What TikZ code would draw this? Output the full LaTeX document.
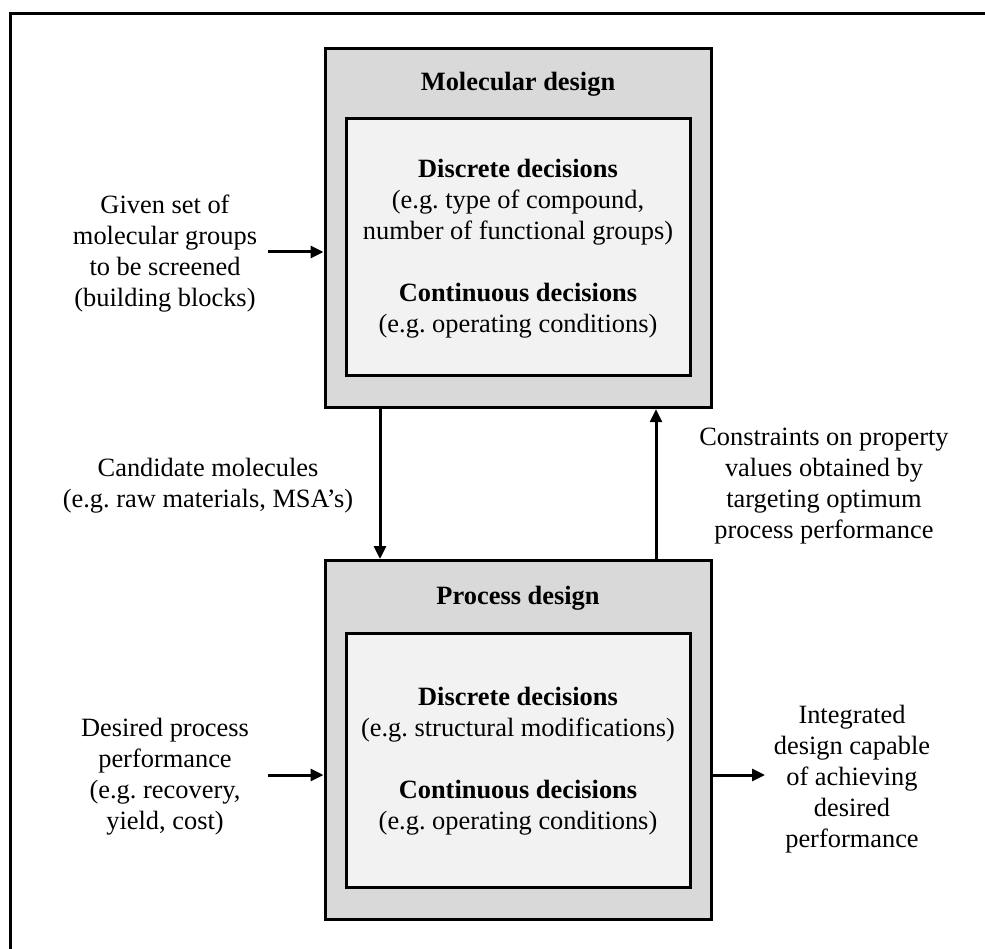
\documentclass[tikz,border=0pt]{standalone}
\usepackage{fontspec}
\setmainfont{Liberation Serif}
\usetikzlibrary{arrows.meta}
\definecolor{outergray}{HTML}{D9D9D9}
\definecolor{innergray}{HTML}{F2F2F2}
\frenchspacing
\begin{document}
\begin{tikzpicture}[x=1pt,y=-1pt,
  every node/.style={font=\fontsize{26.4}{31}\selectfont, inner sep=0pt, align=center},
  outerbox/.style={draw, line width=3pt, fill=outergray, minimum width=386pt},
  innerbox/.style={draw, line width=3pt, fill=innergray, minimum width=344pt},
  arr/.style={line width=3pt, -{Triangle[length=13pt,width=12pt]}},
  frameline/.style={line width=3pt}]
\useasboundingbox (0,0) rectangle (985,949);

% open frame (top and left edges)
\coordinate (fBL) at (10.5,949);
\coordinate (fTL) at (10.5,13.5);
\coordinate (fTR) at (985,13.5);
\draw[frameline] (fBL) -- (fTL) -- (fTR);

% molecular design block
\node[outerbox, minimum height=359pt] (mol) at (518,228.2) {};
\node[innerbox, minimum height=257pt] (molin) at (518,247.2) {};
\node[font=\fontsize{26.4}{31}\selectfont\bfseries] (moltitle) at (518,84) {Molecular design};
\node (moltext) at (518,249) {\textbf{Discrete decisions}\\(e.g. type of compound,\\number of functional groups)\\[31pt]\textbf{Continuous decisions}\\(e.g. operating conditions)};

% process design block
\node[outerbox, minimum height=359pt] (proc) at (518,740) {};
\node[innerbox, minimum height=254pt] (procin) at (518,760.5) {};
\node[font=\fontsize{26.4}{31}\selectfont\bfseries] (proctitle) at (518,598) {Process design};
\node (proctext) at (518,761) {\textbf{Discrete decisions}\\(e.g. structural modifications)\\[31pt]\textbf{Continuous decisions}\\(e.g. operating conditions)};

% side labels
\node (given) at (165,254) {Given set of\\molecular groups\\to be screened\\(building blocks)};
\node (desired) at (165,777) {Desired process\\performance\\(e.g. recovery,\\yield, cost)};
\node (integ) at (852,779) {Integrated\\design capable\\of achieving\\desired\\performance};
\node (cand) at (208,486) {Candidate molecules\\(e.g. raw materials, MSA's)};
\node (constr) at (824,486) {Constraints on property\\values obtained by\\targeting optimum\\process performance};

% connectors
\coordinate (gIn) at (268,252);
\draw[arr] (gIn) -- (gIn -| mol.west);
\coordinate (dIn) at (268,775);
\draw[arr] (dIn) -- (dIn -| proc.west);
\coordinate (iOut) at (765,775);
\draw[arr] (iOut -| proc.east) -- (iOut);
\draw[arr] ([xshift=-138pt]mol.south) -- ([xshift=-138pt]proc.north);
\draw[arr] ([xshift=138pt]proc.north) -- ([xshift=138pt]mol.south);
\end{tikzpicture}
\end{document}
